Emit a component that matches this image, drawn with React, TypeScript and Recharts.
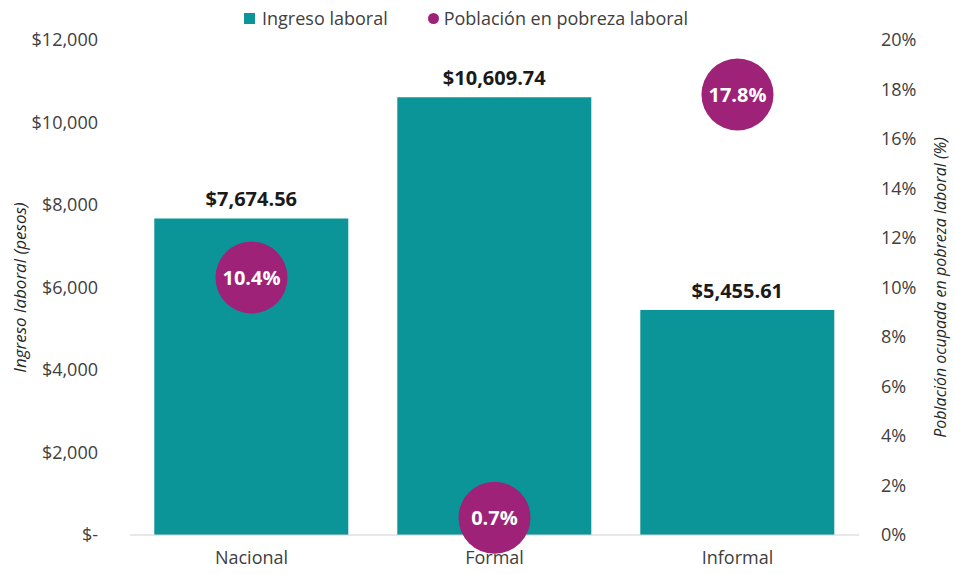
import React from 'react';
import {
  ComposedChart,
  Bar,
  Scatter,
  XAxis,
  YAxis,
  LabelList,
} from 'recharts';

const categories = ['Nacional', 'Formal', 'Informal'];
const ingresoLaboral = [7674.56, 10609.74, 5455.61];
const pobrezaLaboral = [10.4, 0.7, 17.8];
const leftTicks = [0, 2000, 4000, 6000, 8000, 10000, 12000];
const rightTicks = [0, 2, 4, 6, 8, 10, 12, 14, 16, 18, 20];

const TEAL = '#0B9598';
const PURPLE = '#9D2278';
const TEXT = '#404040';
const FONT = '"Open Sans", "Liberation Sans", sans-serif';

const data = categories.map((name, i) => ({
  name,
  ingreso: ingresoLaboral[i],
  pobreza: pobrezaLaboral[i],
}));

const fmtMoney = (v: number) =>
  '$' + v.toLocaleString('en-US', { minimumFractionDigits: 2, maximumFractionDigits: 2 });

const fmtLeft = (v: number) => (v === 0 ? '$-' : '$' + v.toLocaleString('en-US'));

const Bubble = (props: any) => {
  const { cx, cy, payload } = props;
  if (cx == null || cy == null) return null;
  return (
    <g>
      <circle cx={cx} cy={cy} r={36} fill={PURPLE} />
      <text
        x={cx}
        y={cy}
        textAnchor="middle"
        dominantBaseline="central"
        fill="#fff"
        fontWeight={700}
        fontSize={20}
        fontFamily={FONT}
      >
        {payload.pobreza.toFixed(1)}%
      </text>
    </g>
  );
};

function LegendBox() {
  return (
    <div
      style={{
        position: 'absolute',
        top: 6,
        left: 244,
        display: 'flex',
        gap: 40,
        fontFamily: FONT,
        fontSize: 18,
        color: TEXT,
        whiteSpace: 'nowrap',
      }}
    >
      <div style={{ display: 'flex', alignItems: 'center', gap: 7 }}>
        <span style={{ width: 11, height: 11, background: TEAL, display: 'inline-block' }} />
        <span>Ingreso laboral</span>
      </div>
      <div style={{ display: 'flex', alignItems: 'center', gap: 5 }}>
        <span
          style={{ width: 11, height: 11, borderRadius: '50%', background: PURPLE, display: 'inline-block' }}
        />
        <span>Población en pobreza laboral</span>
      </div>
    </div>
  );
}

export default function App() {
  return (
    <div style={{ position: 'absolute', left: 0, top: 0, width: 954, height: 574, background: '#fff' }}>
      <LegendBox />
      <ComposedChart
        width={954}
        height={574}
        data={data}
        margin={{ top: 40, right: 0, bottom: 0, left: 0 }}
        barCategoryGap="10%"
      >
        <XAxis
          dataKey="name"
          height={39}
          tickLine={false}
          axisLine={{ stroke: '#d0d0d0' }}
          tick={{ fill: TEXT, fontSize: 18, fontFamily: FONT }}
          tickMargin={10}
        />
        <YAxis
          yAxisId="left"
          width={130}
          domain={[0, 12000]}
          ticks={leftTicks}
          tickFormatter={fmtLeft}
          axisLine={false}
          tickLine={false}
          tickMargin={26}
          tick={{ fill: TEXT, fontSize: 18, fontFamily: FONT }}
          label={{
            value: 'Ingreso laboral (pesos)',
            angle: -90,
            position: 'insideLeft',
            offset: 20,
            style: { textAnchor: 'middle', fontStyle: 'italic', fill: '#262626', fontSize: 17, fontFamily: FONT },
          }}
        />
        <YAxis
          yAxisId="right"
          orientation="right"
          width={95}
          domain={[0, 20]}
          ticks={rightTicks}
          tickFormatter={(v: number) => `${v}%`}
          axisLine={false}
          tickLine={false}
          tickMargin={16}
          tick={{ fill: TEXT, fontSize: 18, fontFamily: FONT, textAnchor: 'start' }}
          label={{
            value: 'Población ocupada en pobreza laboral (%)',
            angle: -90,
            position: 'insideRight',
            offset: 14,
            style: { textAnchor: 'middle', fontStyle: 'italic', fill: '#262626', fontSize: 16, fontFamily: FONT },
          }}
        />
        <Bar yAxisId="left" dataKey="ingreso" fill={TEAL} isAnimationActive={false}>
          <LabelList
            dataKey="ingreso"
            position="top"
            offset={12}
            formatter={(v: any) => fmtMoney(Number(v))}
            style={{ fill: '#1a1a1a', fontWeight: 700, fontSize: 20, fontFamily: FONT }}
          />
        </Bar>
        <Scatter yAxisId="right" dataKey="pobreza" shape={<Bubble />} isAnimationActive={false} />
      </ComposedChart>
    </div>
  );
}
